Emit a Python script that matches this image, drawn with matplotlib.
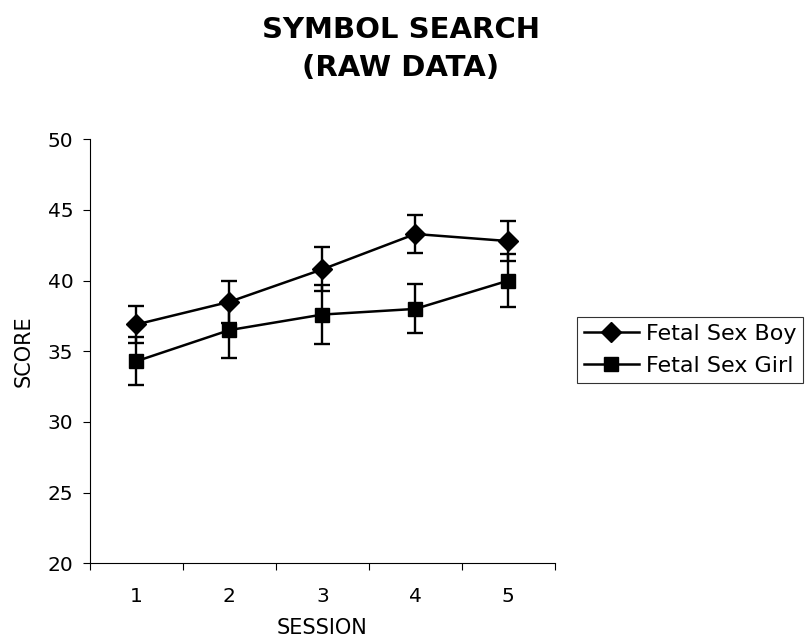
import matplotlib.pyplot as plt
from matplotlib.ticker import FixedLocator

# Symbol search scores per session, mean and error
sessions = [1, 2, 3, 4, 5]
boy_scores = [36.9, 38.5, 40.8, 43.3, 42.8]
boy_err = [1.3, 1.5, 1.55, 1.33, 1.39]
girl_scores = [34.3, 36.5, 37.6, 38.0, 40.0]
girl_err = [1.7, 2.0, 2.1, 1.73, 1.86]

plt.rcParams['font.family'] = ['DejaVu Sans']

fig = plt.figure(figsize=(8.09, 6.42), dpi=100)
ax = fig.add_axes([0.1112, 0.1226, 0.5745, 0.6604])

# error bars first, then the lines with markers on top
ax.errorbar(sessions, boy_scores, yerr=boy_err, fmt='none', ecolor='black',
            capsize=6, capthick=1.7, elinewidth=1.7)
ax.errorbar(sessions, girl_scores, yerr=girl_err, fmt='none', ecolor='black',
            capsize=6, capthick=1.7, elinewidth=1.7)
ax.plot(sessions, boy_scores, color='black', lw=1.8, marker='D', ms=9.7,
        label='Fetal Sex Boy')
ax.plot(sessions, girl_scores, color='black', lw=1.8, marker='s', ms=10,
        label='Fetal Sex Girl')

ax.set_xlim(0.5, 5.5)
ax.set_ylim(20, 50)
ax.set_yticks([20, 25, 30, 35, 40, 45, 50])
ax.set_xticks(sessions)
ax.xaxis.set_minor_locator(FixedLocator([0.5, 1.5, 2.5, 3.5, 4.5, 5.5]))
ax.tick_params(axis='x', which='major', length=0, labelsize=14.5, pad=17)
ax.tick_params(axis='x', which='minor', length=5, width=0.8)
ax.tick_params(axis='y', length=5, width=0.8, labelsize=14.5, pad=7)

for side in ['top', 'right']:
    ax.spines[side].set_visible(False)
for side in ['left', 'bottom']:
    ax.spines[side].set_linewidth(0.8)

ax.set_xlabel('SESSION', fontsize=15, labelpad=9)
ax.set_ylabel('SCORE', fontsize=15, labelpad=10)

fig.text(0.4957, 0.924, 'SYMBOL SEARCH\n(RAW DATA)', ha='center', va='center',
         fontsize=21, fontweight='bold', linespacing=1.45)

leg = ax.legend(loc='upper left', bbox_to_anchor=(577 / 809, 1 - 317 / 642),
                bbox_transform=fig.transFigure, fontsize=16, frameon=True,
                fancybox=False, edgecolor='black', borderpad=0.3,
                handlelength=2.5, handletextpad=0.3, labelspacing=0.55,
                borderaxespad=0)
leg.get_frame().set_linewidth(0.8)

fig.savefig('out.png', dpi=100, facecolor='white')
